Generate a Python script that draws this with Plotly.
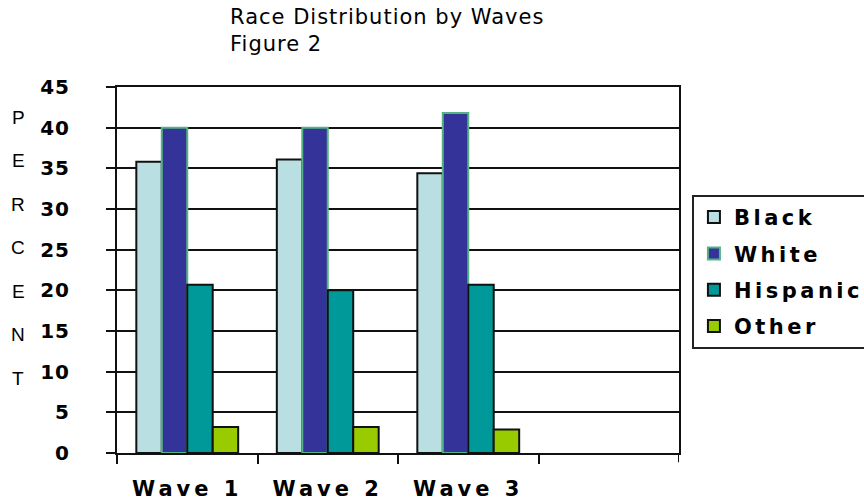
import plotly.graph_objects as go

# Survey waves and race shares (percent)
waves = ["Wave 1", "Wave 2", "Wave 3"]
black = [35.8, 36.1, 34.4]
white = [40.0, 40.0, 41.8]
hispanic = [20.7, 20.0, 20.7]
other = [3.2, 3.2, 2.9]

series_names = ["Black", "White", "Hispanic", "Other"]
series_values = [black, white, hispanic, other]
series_fill = ["#B9DFE3", "#333399", "#009999", "#99CC00"]
series_edge = ["#111111", "#55B383", "#111111", "#111111"]

y_ticks = [0, 5, 10, 15, 20, 25, 30, 35, 40, 45]
axis_letters = list("PERCENT")

BOLD = "DejaVu Sans"


def spaced(text, px):
    return f'<span style="letter-spacing:{px}px">{text}</span>'


fig = go.Figure()
for name, vals, fill, edge in zip(series_names, series_values, series_fill, series_edge):
    fig.add_trace(go.Bar(
        x=waves, y=vals, name=spaced(name, 3.5), legendgroup=name,
        marker=dict(color=fill, line=dict(color=edge, width=2)),
    ))

fig.update_layout(
    width=864, height=504,
    margin=dict(l=117, r=185, t=87, b=51, autoexpand=False),
    paper_bgcolor="white", plot_bgcolor="white",
    barmode="group", bargap=0.275, bargroupgap=0,
    showlegend=True,
    legend=dict(
        x=1.023, y=0.705, xanchor="left", yanchor="top",
        xref="paper", yref="paper",
        bordercolor="#222222", borderwidth=2, bgcolor="white",
        font=dict(family=BOLD, size=21, color="black", weight="bold"),
        tracegroupgap=6, traceorder="grouped",
    ),
    xaxis=dict(
        type="category", categoryorder="array", categoryarray=waves,
        range=[-0.5, 3.5], tickson="boundaries",
        tickmode="array", tickvals=waves, ticktext=[spaced(w, 4) for w in waves],
        ticks="outside", ticklen=9, tickwidth=2, tickcolor="#111111",
        showline=True, linewidth=2, linecolor="#111111", mirror=True,
        showgrid=False,
        tickfont=dict(family=BOLD, size=21, color="black", weight="bold"),
        ticklabelstandoff=16,
    ),
    yaxis=dict(
        range=[0, 45], tickmode="array", tickvals=y_ticks,
        ticktext=[spaced(str(t), 1) for t in y_ticks],
        ticks="outside", ticklen=9, tickwidth=2, tickcolor="#111111",
        showline=True, linewidth=2, linecolor="#111111", mirror=True,
        showgrid=True, gridwidth=2, gridcolor="#111111", zeroline=False,
        tickfont=dict(family=BOLD, size=20, color="black", weight="bold"),
        ticklabelstandoff=32,
    ),
)

# Closing tick below the right edge of the plot frame
fig.add_shape(type="line", xref="x", yref="paper", x0=3.5, x1=3.5, y0=-0.025, y1=0,
              line=dict(color="#111111", width=2))

# Two-line title
fig.add_annotation(
    xref="paper", yref="paper", x=0.1975, y=1.23, xanchor="left", yanchor="top",
    align="left", showarrow=False,
    text=spaced("Race Distribution by Waves", 1) + "<br>" + spaced("Figure 2", 1),
    font=dict(family="DejaVu Sans", size=21, color="black"),
)

# Vertical axis caption, one letter per line
plot_top, plot_h = 87, 366
for i, ch in enumerate(axis_letters):
    y_px = 117 + i * 43.5
    fig.add_annotation(
        xref="paper", yref="paper", x=(18 - 117) / 562, y=(plot_top + plot_h - y_px) / plot_h,
        xanchor="center", yanchor="middle", showarrow=False, text=ch,
        font=dict(family="Liberation Sans", size=19, color="black"),
    )

fig.write_html("out.html")
